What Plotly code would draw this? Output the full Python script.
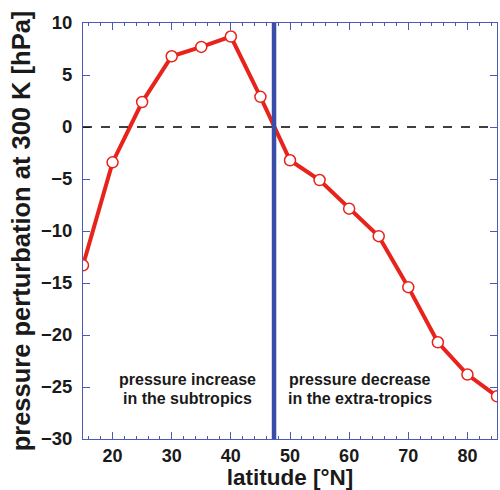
import plotly.graph_objects as go

latitude = [15, 20, 25, 30, 35, 40, 45, 50, 55, 60, 65, 70, 75, 80, 85]
perturbation = [-13.3, -3.4, 2.4, 6.8, 7.7, 8.7, 2.9, -3.2, -5.1, -7.85, -10.5, -15.4, -20.7, -23.8, -25.9]
divide_lat = 47.3
x_ticks = [20, 30, 40, 50, 60, 70, 80]
y_ticks = [10, 5, 0, -5, -10, -15, -20, -25, -30]
left_note = ["pressure increase", "in the subtropics"]
right_note = ["pressure decrease", "in the extra-tropics"]
note_lines_y = [-24.28, -26.1]

FONT = "Liberation Sans, Arial, Helvetica, sans-serif"
AXIS_BLUE = "#4a5ab5"
RED = "#e8231c"
TXT = "#1a1a1a"

fig = go.Figure()
fig.add_trace(go.Scatter(
    x=latitude, y=perturbation, mode="lines+markers",
    line=dict(color=RED, width=4),
    marker=dict(symbol="circle", size=11, color="white", line=dict(color=RED, width=1.5)),
    showlegend=False,
))

fig.add_shape(type="line", xref="paper", yref="y", x0=0, x1=1, y0=0, y1=0,
              line=dict(color="black", width=1.3, dash="dash"))
fig.add_shape(type="line", xref="x", yref="paper", x0=divide_lat, x1=divide_lat, y0=0, y1=1,
              line=dict(color="#3a4ea8", width=4.5))

for txt, yy in zip(left_note, note_lines_y):
    fig.add_annotation(x=32.6, y=yy, xref="x", yref="y", text=txt, showarrow=False,
                       font=dict(family=FONT, size=16, color=TXT, weight=700))
for txt, yy in zip(right_note, note_lines_y):
    fig.add_annotation(x=61.9, y=yy, xref="x", yref="y", text=txt, showarrow=False,
                       font=dict(family=FONT, size=16, color=TXT, weight=700))

fig.update_layout(
    width=500, height=490,
    margin=dict(l=83, r=3, t=23, b=51),
    paper_bgcolor="white", plot_bgcolor="white",
    xaxis=dict(
        range=[15, 85], tickvals=x_ticks, ticks="inside", ticklen=7, tickcolor=AXIS_BLUE,
        showline=True, linecolor=AXIS_BLUE, linewidth=1, mirror="ticks", showgrid=False,
        zeroline=False,
        minor=dict(dtick=2, tick0=0, ticks="inside", ticklen=3, tickcolor=AXIS_BLUE, showgrid=False),
        tickfont=dict(family=FONT, size=18, color=TXT, weight=700),
        title=dict(text="latitude [°N]", font=dict(family=FONT, size=22.5, color=TXT, weight=700), standoff=5),
    ),
    yaxis=dict(
        range=[-30, 10], tickvals=y_ticks, ticks="inside", ticklen=7, tickcolor=AXIS_BLUE,
        showline=True, linecolor=AXIS_BLUE, linewidth=1, mirror="ticks", showgrid=False,
        zeroline=False, ticklabelstandoff=6,
        tickfont=dict(family=FONT, size=18.5, color=TXT, weight=700),
        title=dict(text="pressure perturbation at 300 K [hPa]",
                   font=dict(family=FONT, size=25.5, color=TXT, weight=700), standoff=2),
    ),
)

fig.write_html("out.html")
